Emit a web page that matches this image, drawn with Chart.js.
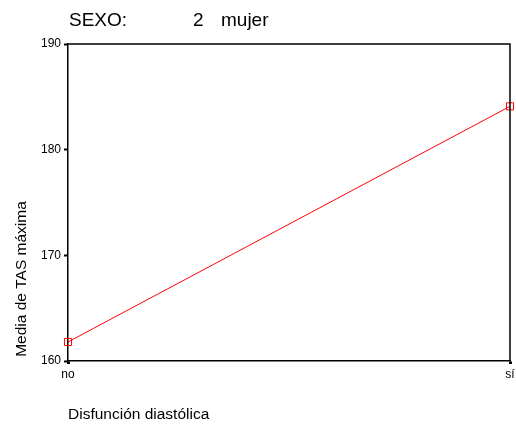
<!DOCTYPE html>
<html>
<head>
<meta charset="utf-8">
<script src="https://cdn.jsdelivr.net/npm/chart.js@4"></script>
<style>
  html, body { margin: 0; padding: 0; background: #fff; }
  #chart { display: block; }
</style>
</head>
<body>
<canvas id="chart" width="516" height="427"></canvas>
<script>
const categories = ['no', 'sí'];
const tasMedia = [161.8, 184.1];
const yTicks = [160, 170, 180, 190];

const titleSexo = 'SEXO:';
const titleCode = '2';
const titleGroup = 'mujer';
const yTitle = 'Media de TAS máxima';
const xTitle = 'Disfunción diastólica';

const FONT = 'Arial, "Liberation Sans", sans-serif';

// frame + titles drawn by hand, like the original SPSS look
const framePlugin = {
    id: 'frame',
    afterDraw(chart) {
        const ctx = chart.ctx;
        const a = chart.chartArea;
        ctx.save();
        ctx.strokeStyle = '#000';
        ctx.lineWidth = 1.5;
        ctx.beginPath();
        ctx.moveTo(a.left, a.top);
        ctx.lineTo(a.right, a.top);
        ctx.lineTo(a.right, a.bottom);
        ctx.stroke();

        ctx.fillStyle = '#000';
        ctx.textBaseline = 'alphabetic';
        ctx.textAlign = 'left';
        ctx.font = '19px ' + FONT;
        ctx.fillText(titleSexo, 69, 26);
        ctx.fillText(titleCode, 193, 26);
        ctx.fillText(titleGroup, 221, 26);

        ctx.font = '15.5px ' + FONT;
        ctx.fillText(xTitle, 68, 419);

        ctx.translate(26, 279);
        ctx.rotate(-Math.PI / 2);
        ctx.textAlign = 'center';
        ctx.fillText(yTitle, 0, 0);
        ctx.restore();
    }
};

new Chart(document.getElementById('chart'), {
    type: 'line',
    data: {
        labels: categories,
        datasets: [{
            data: tasMedia,
            borderColor: 'red',
            borderWidth: 1,
            tension: 0,
            fill: false,
            pointStyle: 'rect',
            pointRadius: 5,
            pointHoverRadius: 5,
            pointBorderColor: 'red',
            pointBackgroundColor: 'rgba(0,0,0,0)',
            pointBorderWidth: 1,
            clip: false
        }]
    },
    options: {
        responsive: false,
        animation: false,
        devicePixelRatio: 1,
        layout: { padding: { top: 44, right: 5, left: 0, bottom: 0 } },
        plugins: {
            legend: { display: false },
            title: { display: false },
            tooltip: { enabled: false }
        },
        scales: {
            x: {
                type: 'category',
                offset: false,
                afterFit: (scale) => {
                    scale.height = 66;
                    scale.paddingRight = 0;
                    scale.paddingLeft = 0;
                },
                grid: {
                    drawOnChartArea: false,
                    tickLength: 3,
                    tickWidth: 3,
                    color: '#000'
                },
                border: { display: true, color: '#000', width: 1.5 },
                ticks: {
                    color: '#000',
                    padding: 3,
                    maxRotation: 0,
                    font: { family: FONT, size: 12 }
                }
            },
            y: {
                min: yTicks[0],
                max: yTicks[yTicks.length - 1],
                afterFit: (scale) => {
                    scale.width = 68;
                    scale.paddingTop = 0;
                    scale.paddingBottom = 0;
                },
                afterBuildTicks: (scale) => {
                    scale.ticks = yTicks.map(v => ({ value: v }));
                },
                grid: {
                    drawOnChartArea: false,
                    tickLength: 4,
                    tickWidth: 2,
                    color: '#000'
                },
                border: { display: true, color: '#000', width: 1.5 },
                ticks: {
                    color: '#000',
                    padding: 3,
                    font: { family: FONT, size: 12 }
                }
            }
        }
    },
    plugins: [framePlugin]
});
</script>
</body>
</html>
